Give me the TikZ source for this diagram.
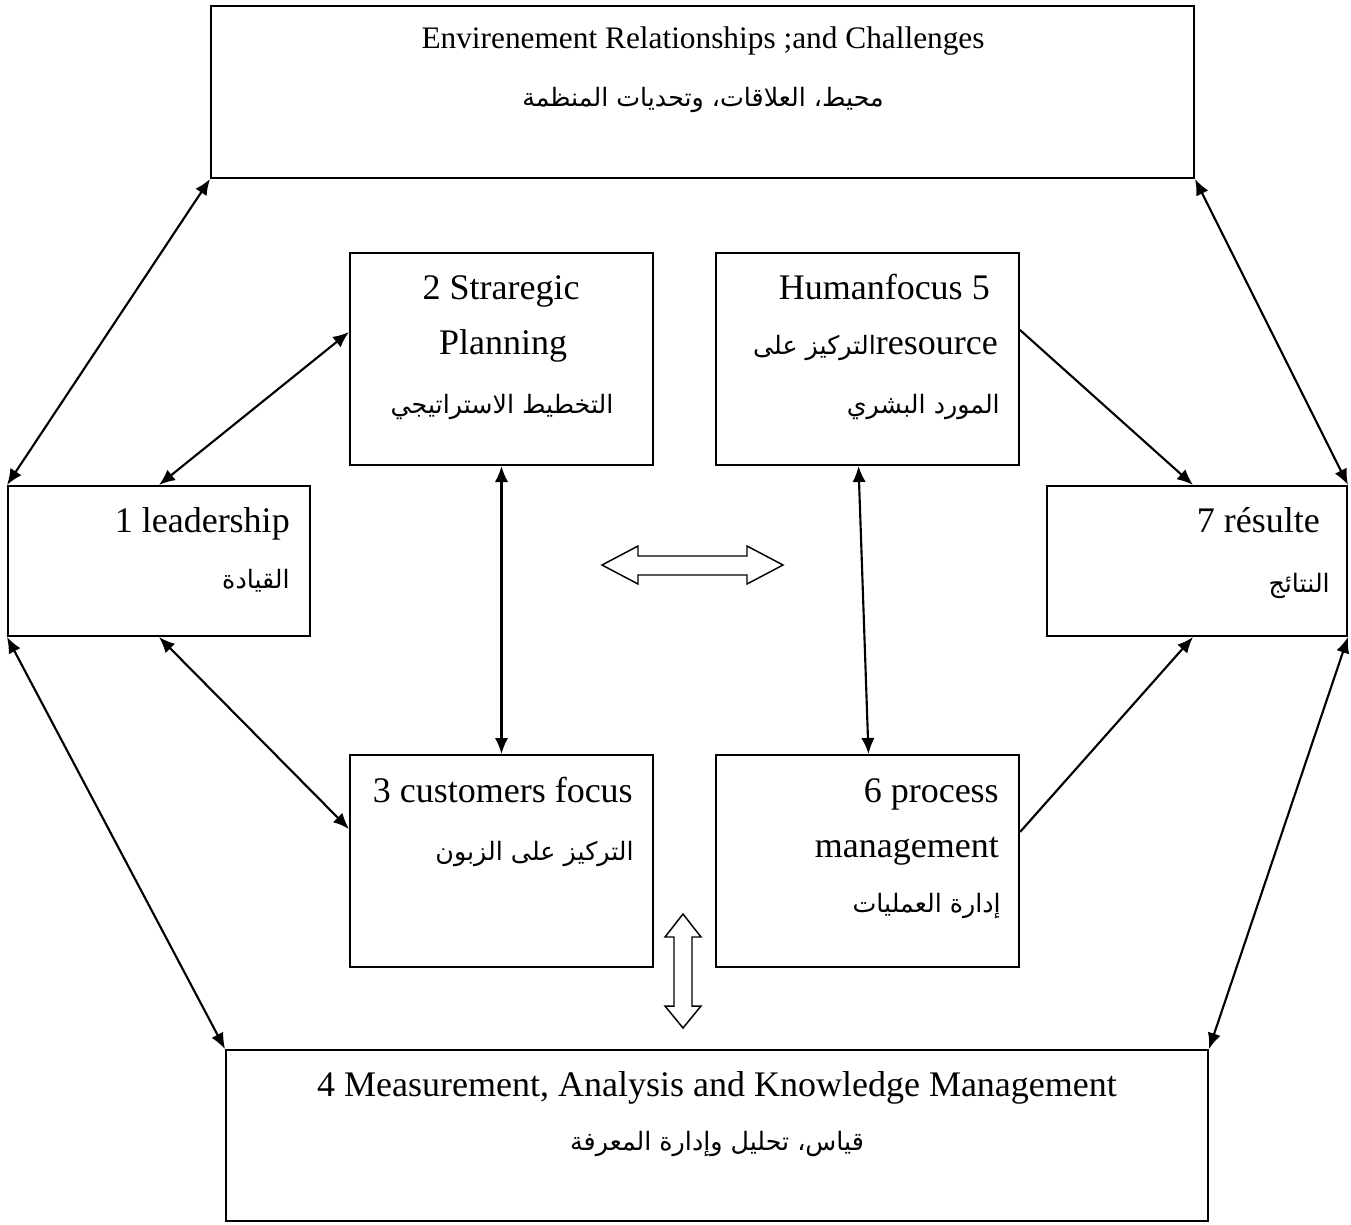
\documentclass[tikz,border=0pt]{standalone}
\usepackage{fontspec}
\setmainfont{Liberation Serif}
\newfontfamily\arabicfont[Script=Arabic]{DejaVu Sans}
\TeXXeTstate=1
\usetikzlibrary{arrows.meta,fit,calc}
\newcommand{\artxt}[1]{{\arabicfont\beginR #1\endR}}
\begin{document}
\begin{tikzpicture}[x=0.75pt,y=-0.75pt,
  box/.style={draw, line width=1.5pt, inner sep=0pt},
  en/.style={inner sep=0pt, font=\fontsize{27}{32}\selectfont},
  entop/.style={inner sep=0pt, font=\fontsize{23.5}{28}\selectfont},
  ar/.style={inner sep=0pt, font=\fontsize{19}{24}\selectfont},
  link/.style={line width=1.6pt, {Latex[length=12pt,width=10pt]}-{Latex[length=12pt,width=10pt]}},
  onelink/.style={line width=1.6pt, -{Latex[length=12pt,width=10pt]}},
  blockarrow/.style={draw, line width=1.1pt, fill=white, line join=miter}]
\useasboundingbox (0,0) rectangle (1351,1224);
% boxes
\node[box, fit={(211,6)(1194,178)}] (top) {};
\node[box, fit={(8,486)(310,636)}] (lead) {};
\node[box, fit={(1047,486)(1347,636)}] (res) {};
\node[box, fit={(350,253)(653,465)}] (plan) {};
\node[box, fit={(716,253)(1019,465)}] (human) {};
\node[box, fit={(350,755)(653,967)}] (cust) {};
\node[box, fit={(716,755)(1019,967)}] (proc) {};
\node[box, fit={(226,1050)(1208,1221)}] (meas) {};
% texts
\node[entop, anchor=base] (toptxt) at (703,48) {Envirenement Relationships ;and Challenges};
\node[ar, anchor=base] (topar) at (703,106) {\artxt{محيط، العلاقات، وتحديات المنظمة}};
\node[en, anchor=base] (plan1) at (501,299) {2 Straregic};
\node[en, anchor=base] (plan2) at (503,354) {Planning};
\node[ar, anchor=base] (plan3) at (502,413) {\artxt{التخطيط الاستراتيجي}};
\node[en, anchor=base east] (hum1) at (990,299) {Humanfocus 5};
\node[en, anchor=base east] (hum2) at (998,354) {{\fontsize{19}{24}\selectfont\artxt{التركيز على}}resource};
\node[ar, anchor=base east] (hum3) at (1000,413) {\artxt{المورد البشري}};
\node[en, anchor=base east] (lead1) at (290,532) {1 leadership};
\node[ar, anchor=base east] (lead2) at (290,588) {\artxt{القيادة}};
\node[en, anchor=base east] (res1) at (1320,532) {7 résulte};
\node[ar, anchor=base east] (res2) at (1330,592) {\artxt{النتائج}};
\node[en, anchor=base east] (cust1) at (633,802) {3 customers focus};
\node[ar, anchor=base east] (cust2) at (634,860) {\artxt{التركيز على الزبون}};
\node[en, anchor=base east] (proc1) at (999,802) {6 process};
\node[en, anchor=base east] (proc2) at (999,857) {management};
\node[ar, anchor=base east] (proc3) at (1001,912) {\artxt{إدارة العمليات}};
\node[en, anchor=base] (meas1) at (717,1096) {4 Measurement, Analysis and Knowledge Management};
\node[ar, anchor=base] (meas2) at (717,1150) {\artxt{قياس، تحليل وإدارة المعرفة}};
% connectors
\draw[link] (top.south west) -- (lead.north west);
\draw[link] (top.south east) -- (res.north east);
\draw[link] (lead.south west) -- (meas.north west);
\draw[link] (res.south east) -- (meas.north east);
\draw[link] ($(plan.north west)+(0,80)$) -- (lead.north);
\draw[link] (lead.south) -- ($(cust.north west)+(0,75)$);
\draw[link] (plan.south) -- (cust.north);
\draw[link] ($(human.south)+(-9,0)$) -- ($(proc.north)+(1,0)$);
\draw[onelink] ($(human.north east)+(0,78)$) -- ($(res.north)+(-4,0)$);
\draw[onelink] ($(proc.north east)+(0,78)$) -- ($(res.south)+(-4,0)$);
% block arrows
\draw[blockarrow] (602,565) -- (638,546) -- (638,556) -- (747,556) -- (747,546) -- (783,565) -- (747,584) -- (747,575) -- (638,575) -- (638,584) -- cycle;
\draw[blockarrow] (683,914) -- (701,937) -- (692,937) -- (692,1006) -- (701,1006) -- (683,1028) -- (665,1006) -- (674,1006) -- (674,937) -- (665,937) -- cycle;
\end{tikzpicture}
\end{document}
